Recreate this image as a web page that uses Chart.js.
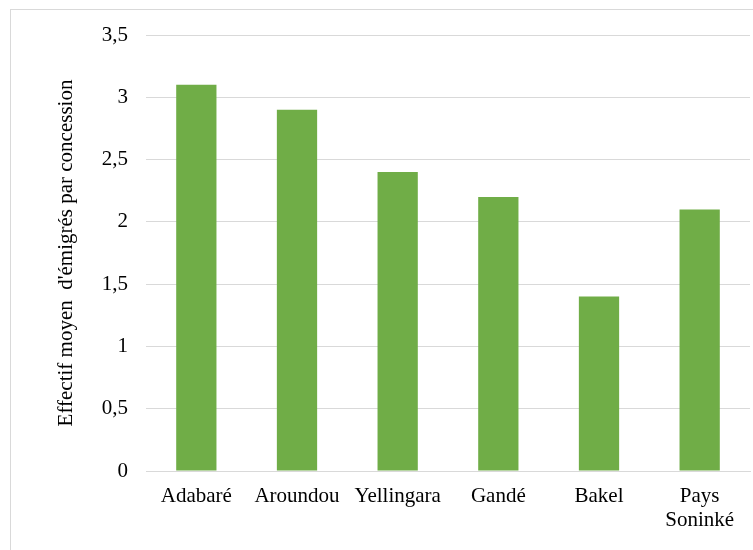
<!DOCTYPE html>
<html>
<head>
<meta charset="utf-8">
<script src="https://cdn.jsdelivr.net/npm/chart.js@4/dist/chart.umd.min.js"></script>
<style>
  html, body { margin: 0; padding: 0; background: #fff; overflow: hidden; }
  #frame { position: absolute; left: 10px; top: 9px; width: 800px; height: 600px; border: 1px solid #d9d9d9; }
  #wrap { position: absolute; left: 0; top: 0; width: 753px; height: 550px; }
</style>
</head>
<body>
<div id="frame"></div>
<div id="wrap"><canvas id="c" width="753" height="550"></canvas></div>
<script>
const categories = ['Adabaré', 'Aroundou', 'Yellingara', 'Gandé', 'Bakel', ['Pays', 'Soninké']];
const effectifMoyen = [3.1, 2.9, 2.4, 2.2, 1.4, 2.1];
const yTicks = [0, 0.5, 1, 1.5, 2, 2.5, 3, 3.5];
const yTitle = "Effectif moyen  d'émigrés par concession";

const serif = "'Liberation Serif', 'Times New Roman', serif";

new Chart(document.getElementById('c'), {
  type: 'bar',
  data: {
    labels: categories,
    datasets: [{
      data: effectifMoyen,
      backgroundColor: '#70AD47',
      borderWidth: 0,
      categoryPercentage: 1,
      barPercentage: 0.4
    }]
  },
  options: {
    responsive: false,
    animation: false,
    events: [],
    layout: { padding: { top: 35, right: 3, left: 0, bottom: 0 } },
    plugins: { legend: { display: false }, tooltip: { enabled: false } },
    scales: {
      x: {
        grid: { display: false, drawTicks: false },
        border: { display: true, color: '#d9d9d9', width: 1 },
        ticks: {
          color: '#000',
          font: { family: serif, size: 21, lineHeight: 1.12 },
          padding: 14,
          maxRotation: 0,
          autoSkip: false
        },
        afterFit(scale) { scale.height = 79; }
      },
      y: {
        min: 0,
        max: 3.5,
        afterBuildTicks(scale) { scale.ticks = yTicks.map(v => ({ value: v })); },
        grid: { color: '#d9d9d9', lineWidth: 1, drawTicks: false },
        border: { display: false },
        ticks: {
          color: '#000',
          font: { family: serif, size: 21 },
          padding: 18,
          callback: v => String(v).replace('.', ',')
        },
        title: {
          display: true,
          text: yTitle,
          color: '#000',
          font: { family: serif, size: 21 },
          padding: { top: 54, bottom: 0 }
        },
        afterFit(scale) { scale.width = 146; }
      }
    }
  }
});
</script>
</body>
</html>
